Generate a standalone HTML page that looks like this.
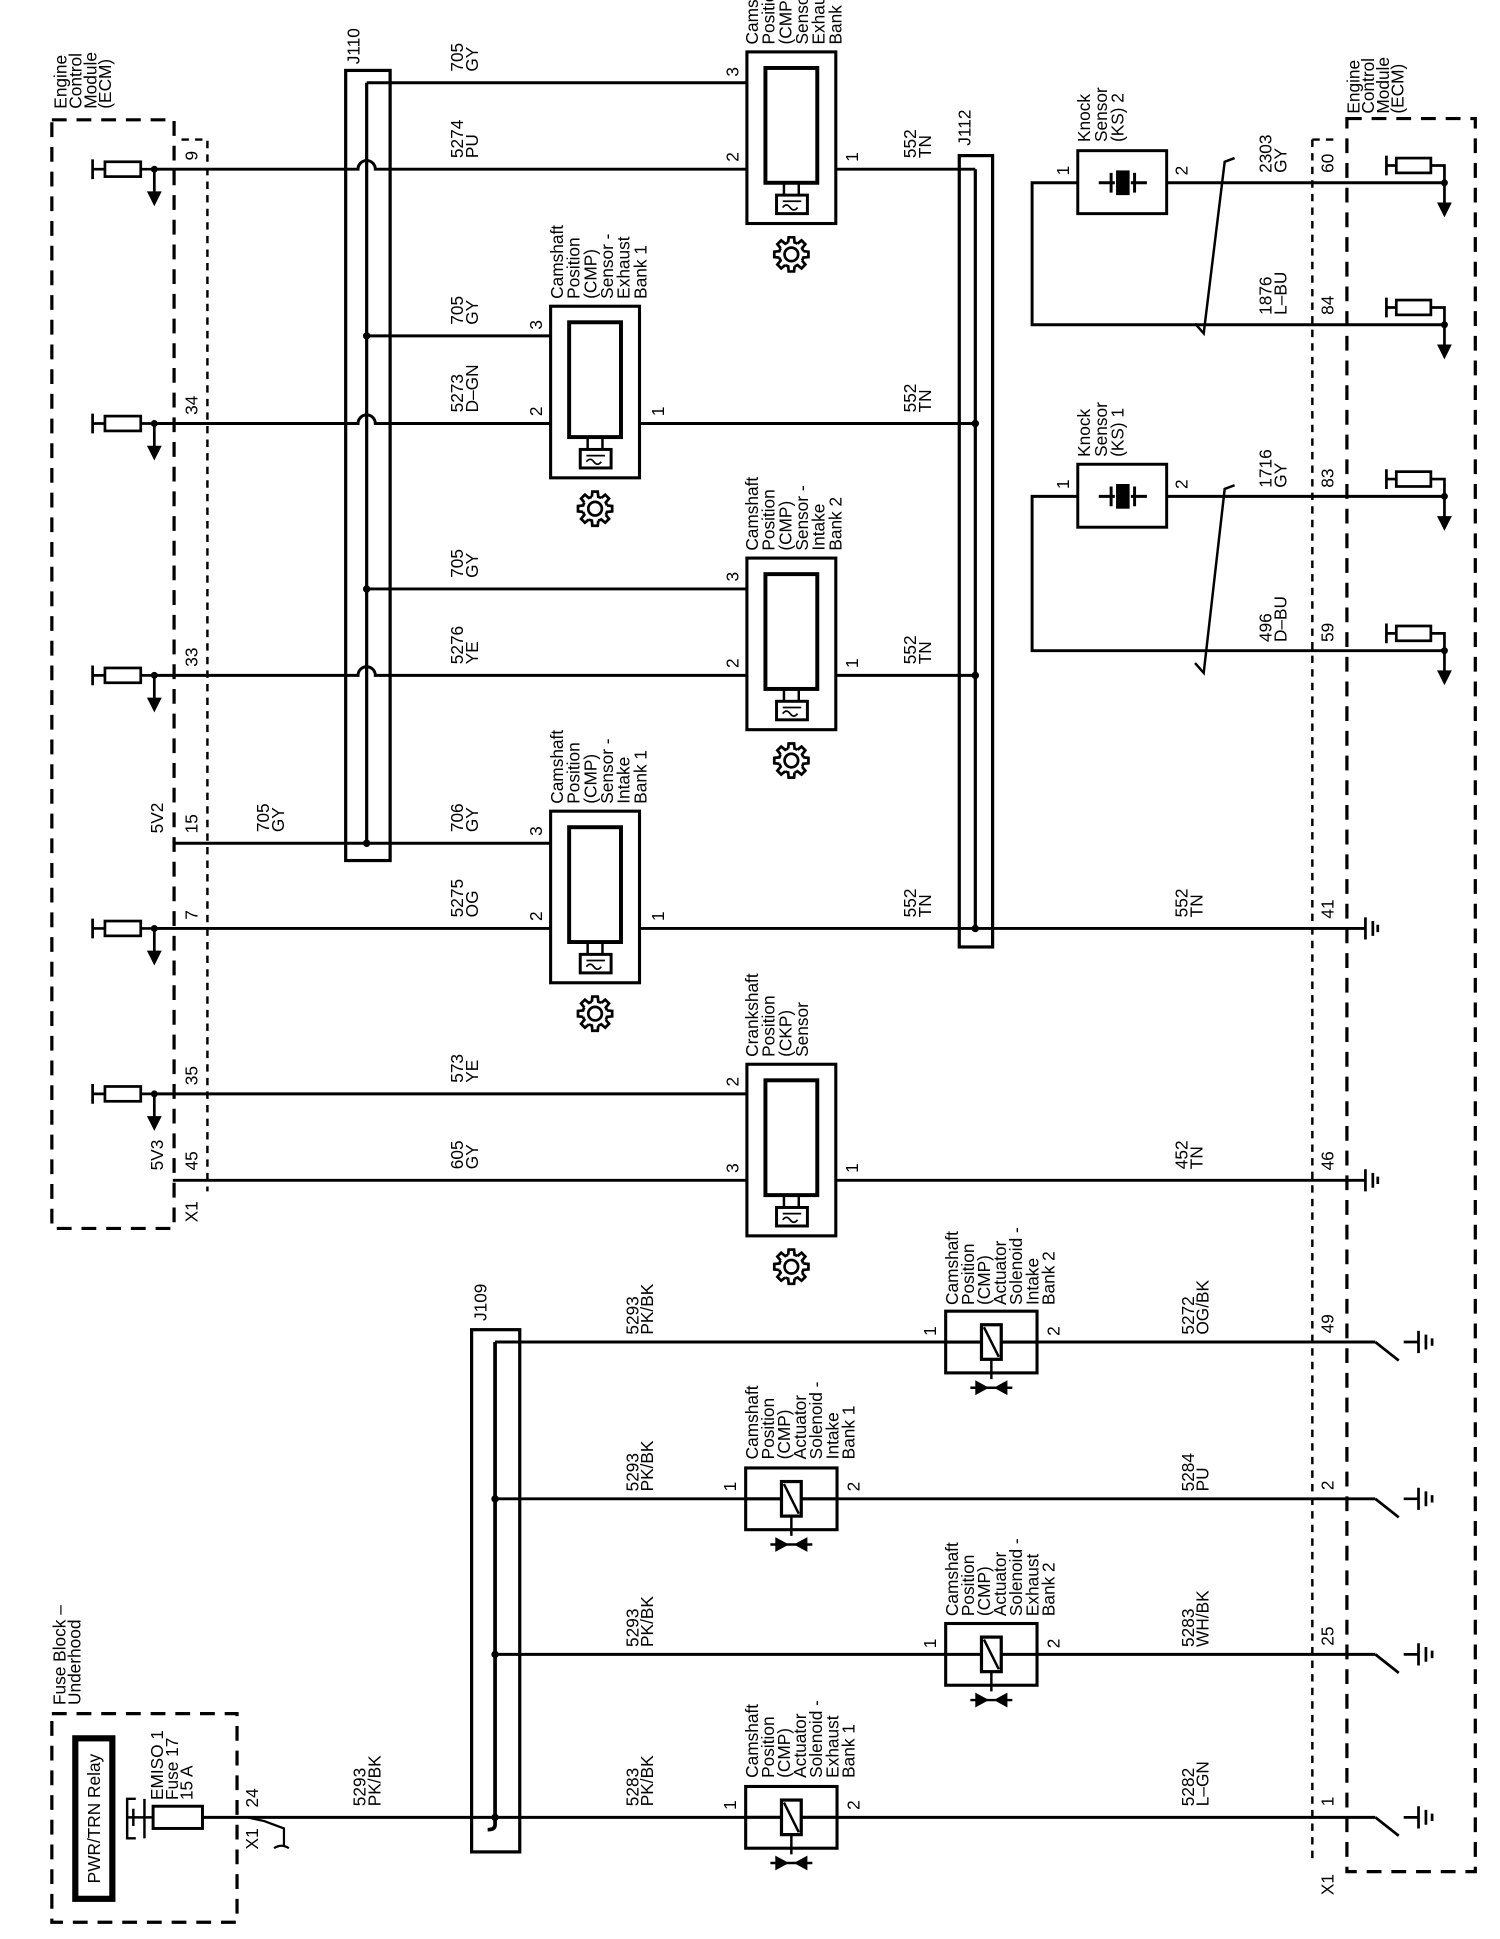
<!DOCTYPE html>
<html><head><meta charset="utf-8"><style>
html,body{margin:0;padding:0;background:#fff;}
svg{display:block;}
text{font-family:"Liberation Sans",Arial,sans-serif;font-size:14px;fill:#000;}
</style></head><body>
<svg width="1500" height="1939" viewBox="0 0 1215 1570.5" xmlns="http://www.w3.org/2000/svg">
<defs>
<path id="tooth" d="M9.66 -2.59L13.83 -2.19L13.83 2.19L9.66 2.59A10 10 0 0 1 8.66 5"/>
<g id="gear" stroke="#000" stroke-width="2.2" fill="none">
  <use href="#tooth"/>
  <use href="#tooth" transform="rotate(45)"/>
  <use href="#tooth" transform="rotate(90)"/>
  <use href="#tooth" transform="rotate(135)"/>
  <use href="#tooth" transform="rotate(180)"/>
  <use href="#tooth" transform="rotate(225)"/>
  <use href="#tooth" transform="rotate(270)"/>
  <use href="#tooth" transform="rotate(315)"/>
  <circle r="5.5"/>
</g>
<g id="resL" stroke="#000" stroke-width="2.2" fill="none">
  <path d="M75 -8V8M75 0H85M114 0H125M125 0V20"/>
  <rect x="85" y="-6" width="29" height="12" fill="#fff"/>
  <circle cx="125" cy="0" r="2.8" fill="#000" stroke="none"/>
  <path d="M119 18H131L125 30Z" fill="#000" stroke="none"/>
</g>
<g id="resR" stroke="#000" stroke-width="2.2" fill="none">
  <path d="M1123 -22V-6M1123 -14H1131M1159 -14H1170V18"/>
  <rect x="1131" y="-20" width="28" height="12" fill="#fff"/>
  <circle cx="1170" cy="0" r="2.8" fill="#000" stroke="none"/>
  <path d="M1164 16H1176L1170 28Z" fill="#000" stroke="none"/>
</g>
<g id="sensor" stroke="#000" fill="none">
  <rect x="0" y="0" width="72" height="139" stroke-width="2.5" fill="#fff"/>
  <rect x="15" y="13" width="42" height="93" stroke-width="3.2" fill="#fff"/>
  <path d="M30 106V116M42 106V116" stroke-width="2"/>
  <rect x="24" y="116" width="25" height="15" stroke-width="2.4"/>
  <path d="M29 121H44M29 126q3 -4 6 0t6 0" stroke-width="1.4"/>
  <use href="#gear" x="36" y="164"/>
</g>
<g id="sol" stroke="#000" fill="none">
  <rect x="0" y="-25" width="74" height="50" stroke-width="2.5" fill="#fff"/>
  <path d="M0 0H74" stroke-width="2.5"/>
  <rect x="29" y="-14" width="16" height="28" stroke-width="2.6" fill="#fff"/>
  <path d="M31 -12L43 12M37 14V30M20 37H54" stroke-width="2"/>
  <path d="M24 31V43L35 37ZM50 31V43L39 37Z" fill="#000" stroke="none"/>
</g>
<g id="gnd" stroke="#000" stroke-width="2.2" fill="none">
  <path d="M0 -9V9M6 -6V6M10 -3V3"/>
</g>
<g id="sw" stroke="#000" stroke-width="2.2" fill="none">
  <path d="M1114 0L1133 15M1137 0H1149M1149 -9V9M1155 -6V6M1160 -3V3"/>
</g>
</defs>

<g fill="none" stroke="#000">
  <rect x="42" y="97" width="99" height="898" stroke-width="2.6" stroke-dasharray="12 8"/>
  <path d="M147 113H168V965" stroke-width="2" stroke-dasharray="6 5"/>
  <rect x="1091" y="96" width="104" height="1420" stroke-width="2.6" stroke-dasharray="12 8"/>
  <path d="M1063 113H1080M1063 113V1505" stroke-width="2" stroke-dasharray="6 5"/>
  <rect x="42" y="1388" width="150" height="169" stroke-width="2.6" stroke-dasharray="12 8"/>
</g>

<g fill="none" stroke="#000">
  <rect x="280" y="57" width="36" height="640" stroke-width="2.6"/>
  <path d="M297 67V683" stroke-width="2.6"/>
  <rect x="777" y="126" width="27" height="641" stroke-width="2.6"/>
  <path d="M790 137V752" stroke-width="2.6"/>
  <rect x="382" y="1077" width="39" height="423" stroke-width="2.6"/>
  <path d="M401 1087V1478q0 4 -6 4" stroke-width="3"/>
</g>

<g fill="none" stroke="#000" stroke-width="2.4">
  <path d="M297 67H620"/>
  <path d="M125 137H290a7 7 0 0 1 14 0H620"/>
  <path d="M661 137H790"/>
  <path d="M297 272H461"/>
  <path d="M125 343H290a7 7 0 0 1 14 0H461M502 343H790"/>
  <path d="M297 477H620"/>
  <path d="M125 547H290a7 7 0 0 1 14 0H620M661 547H790"/>
  <path d="M140 683H461"/>
  <path d="M125 752H461M502 752H1106"/>
  <path d="M125 886H620"/>
  <path d="M140 956H620M661 956H1106"/>
  <path d="M873 148H836V263H1170M945 148H1170"/>
  <path d="M873 402H836V527H1170M945 402H1170"/>
  <path d="M1000 128L992 131L975 270L968 262" stroke-width="2"/>
  <path d="M1000 393L992 396L975 545L968 537" stroke-width="2"/>
  <path d="M401 1087H766M840 1087H1114"/>
  <path d="M401 1214H604M678 1214H1114"/>
  <path d="M401 1340H766M840 1340H1114"/>
  <path d="M164 1472H604M678 1472H1114"/>
  <path d="M200 1472L214 1475L230 1481V1495M222 1497q6 -4 12 0" stroke-width="1.8"/>
</g>
<g fill="#000">
  <circle cx="297" cy="272" r="3"/><circle cx="297" cy="477" r="3"/><circle cx="297" cy="683" r="3"/>
  <circle cx="790" cy="343" r="3"/><circle cx="790" cy="547" r="3"/><circle cx="790" cy="752" r="3"/>
  <circle cx="401" cy="1214" r="3"/><circle cx="401" cy="1340" r="3"/><circle cx="401" cy="1472" r="3"/>
</g>

<use href="#resL" y="137"/><use href="#resL" y="343"/><use href="#resL" y="547"/>
<use href="#resL" y="752"/><use href="#resL" y="886"/>
<use href="#resR" y="148"/><use href="#resR" y="263"/><use href="#resR" y="402"/><use href="#resR" y="527"/>

<use href="#sensor" x="605" y="42"/>
<use href="#sensor" x="446" y="248"/>
<use href="#sensor" x="605" y="452"/>
<use href="#sensor" x="446" y="657"/>
<use href="#sensor" x="605" y="862"/>

<g stroke="#000" fill="none" stroke-width="2.4">
  <rect x="873" y="122" width="72" height="51"/>
  <rect x="873" y="376" width="72" height="51"/>
  <path d="M890 148H903M916 148H929M900 140V156M919 140V156" />
  <path d="M890 402H903M916 402H929M900 394V410M919 394V410" />
</g>
<rect x="904" y="138" width="11" height="20" fill="#000"/>
<rect x="904" y="392" width="11" height="20" fill="#000"/>

<use href="#sol" x="766" y="1087"/>
<use href="#sol" x="604" y="1214"/>
<use href="#sol" x="766" y="1340"/>
<use href="#sol" x="604" y="1472"/>

<use href="#gnd" x="1106" y="752"/><use href="#gnd" x="1106" y="956"/>
<use href="#sw" y="1087"/><use href="#sw" y="1214"/><use href="#sw" y="1340"/><use href="#sw" y="1472"/>

<g stroke="#000" fill="none">
  <rect x="61" y="1408" width="30" height="130" stroke-width="5"/>
  <rect x="124" y="1463" width="40" height="18" stroke-width="2.4" fill="#fff"/>
  <path d="M110 1457H103V1489H110M103 1472H124M108 1465V1479M117 1457V1489" stroke-width="2"/>
</g>

<g>
<text transform="translate(54,88) rotate(-90)"><tspan x="0">Engine</tspan><tspan x="0" dy="12">Control</tspan><tspan x="0" dy="12">Module</tspan><tspan x="0" dy="12">(ECM)</tspan></text>
<text transform="translate(1101,92) rotate(-90)"><tspan x="0">Engine</tspan><tspan x="0" dy="12">Control</tspan><tspan x="0" dy="12">Module</tspan><tspan x="0" dy="12">(ECM)</tspan></text>
<text transform="translate(291,52) rotate(-90)">J110</text>
<text transform="translate(786,118) rotate(-90)">J112</text>
<text transform="translate(394,1070) rotate(-90)">J109</text>

<text transform="translate(375,58) rotate(-90)"><tspan x="0">705</tspan><tspan x="0" dy="12">GY</tspan></text>
<text transform="translate(375,128) rotate(-90)"><tspan x="0">5274</tspan><tspan x="0" dy="12">PU</tspan></text>
<text transform="translate(375,263) rotate(-90)"><tspan x="0">705</tspan><tspan x="0" dy="12">GY</tspan></text>
<text transform="translate(375,334) rotate(-90)"><tspan x="0">5273</tspan><tspan x="0" dy="12">D–GN</tspan></text>
<text transform="translate(375,468) rotate(-90)"><tspan x="0">705</tspan><tspan x="0" dy="12">GY</tspan></text>
<text transform="translate(375,538) rotate(-90)"><tspan x="0">5276</tspan><tspan x="0" dy="12">YE</tspan></text>
<text transform="translate(375,674) rotate(-90)"><tspan x="0">706</tspan><tspan x="0" dy="12">GY</tspan></text>
<text transform="translate(375,743) rotate(-90)"><tspan x="0">5275</tspan><tspan x="0" dy="12">OG</tspan></text>
<text transform="translate(375,877) rotate(-90)"><tspan x="0">573</tspan><tspan x="0" dy="12">YE</tspan></text>
<text transform="translate(375,947) rotate(-90)"><tspan x="0">605</tspan><tspan x="0" dy="12">GY</tspan></text>
<text transform="translate(218,674) rotate(-90)"><tspan x="0">705</tspan><tspan x="0" dy="12">GY</tspan></text>

<text transform="translate(742,128) rotate(-90)"><tspan x="0">552</tspan><tspan x="0" dy="12">TN</tspan></text>
<text transform="translate(742,334) rotate(-90)"><tspan x="0">552</tspan><tspan x="0" dy="12">TN</tspan></text>
<text transform="translate(742,538) rotate(-90)"><tspan x="0">552</tspan><tspan x="0" dy="12">TN</tspan></text>
<text transform="translate(742,743) rotate(-90)"><tspan x="0">552</tspan><tspan x="0" dy="12">TN</tspan></text>
<text transform="translate(962,743) rotate(-90)"><tspan x="0">552</tspan><tspan x="0" dy="12">TN</tspan></text>
<text transform="translate(962,947) rotate(-90)"><tspan x="0">452</tspan><tspan x="0" dy="12">TN</tspan></text>

<text transform="translate(160,130) rotate(-90)">9</text>
<text transform="translate(160,336) rotate(-90)">34</text>
<text transform="translate(160,540) rotate(-90)">33</text>
<text transform="translate(160,675) rotate(-90)">15</text>
<text transform="translate(160,745) rotate(-90)">7</text>
<text transform="translate(160,879) rotate(-90)">35</text>
<text transform="translate(160,948) rotate(-90)">45</text>
<text transform="translate(132,675) rotate(-90)">5V2</text>
<text transform="translate(132,948) rotate(-90)">5V3</text>
<text transform="translate(160,990) rotate(-90)">X1</text>

<text transform="translate(598,62) rotate(-90)">3</text>
<text transform="translate(598,131) rotate(-90)">2</text>
<text transform="translate(695,131) rotate(-90)">1</text>
<text transform="translate(439,267) rotate(-90)">3</text>
<text transform="translate(439,337) rotate(-90)">2</text>
<text transform="translate(538,337) rotate(-90)">1</text>
<text transform="translate(598,471) rotate(-90)">3</text>
<text transform="translate(598,541) rotate(-90)">2</text>
<text transform="translate(695,541) rotate(-90)">1</text>
<text transform="translate(439,677) rotate(-90)">3</text>
<text transform="translate(439,746) rotate(-90)">2</text>
<text transform="translate(538,746) rotate(-90)">1</text>
<text transform="translate(598,880) rotate(-90)">2</text>
<text transform="translate(598,950) rotate(-90)">3</text>
<text transform="translate(695,950) rotate(-90)">1</text>

<text transform="translate(614,36) rotate(-90)"><tspan x="0">Camshaft</tspan><tspan x="0" dy="13.5">Position</tspan><tspan x="0" dy="13.5">(CMP)</tspan><tspan x="0" dy="13.5">Sensor -</tspan><tspan x="0" dy="13.5">Exhaust</tspan><tspan x="0" dy="13.5">Bank 2</tspan></text>
<text transform="translate(456,242) rotate(-90)"><tspan x="0">Camshaft</tspan><tspan x="0" dy="13.5">Position</tspan><tspan x="0" dy="13.5">(CMP)</tspan><tspan x="0" dy="13.5">Sensor -</tspan><tspan x="0" dy="13.5">Exhaust</tspan><tspan x="0" dy="13.5">Bank 1</tspan></text>
<text transform="translate(614,446) rotate(-90)"><tspan x="0">Camshaft</tspan><tspan x="0" dy="13.5">Position</tspan><tspan x="0" dy="13.5">(CMP)</tspan><tspan x="0" dy="13.5">Sensor -</tspan><tspan x="0" dy="13.5">Intake</tspan><tspan x="0" dy="13.5">Bank 2</tspan></text>
<text transform="translate(456,651) rotate(-90)"><tspan x="0">Camshaft</tspan><tspan x="0" dy="13.5">Position</tspan><tspan x="0" dy="13.5">(CMP)</tspan><tspan x="0" dy="13.5">Sensor -</tspan><tspan x="0" dy="13.5">Intake</tspan><tspan x="0" dy="13.5">Bank 1</tspan></text>
<text transform="translate(614,856) rotate(-90)"><tspan x="0">Crankshaft</tspan><tspan x="0" dy="13.5">Position</tspan><tspan x="0" dy="13.5">(CKP)</tspan><tspan x="0" dy="13.5">Sensor</tspan></text>

<text transform="translate(883,115) rotate(-90)"><tspan x="0">Knock</tspan><tspan x="0" dy="13.5">Sensor</tspan><tspan x="0" dy="13.5">(KS) 2</tspan></text>
<text transform="translate(883,370) rotate(-90)"><tspan x="0">Knock</tspan><tspan x="0" dy="13.5">Sensor</tspan><tspan x="0" dy="13.5">(KS) 1</tspan></text>
<text transform="translate(866,142) rotate(-90)">1</text>
<text transform="translate(962,142) rotate(-90)">2</text>
<text transform="translate(866,396) rotate(-90)">1</text>
<text transform="translate(962,396) rotate(-90)">2</text>
<text transform="translate(1030,140) rotate(-90)"><tspan x="0">2303</tspan><tspan x="0" dy="12">GY</tspan></text>
<text transform="translate(1030,255) rotate(-90)"><tspan x="0">1876</tspan><tspan x="0" dy="12">L–BU</tspan></text>
<text transform="translate(1030,395) rotate(-90)"><tspan x="0">1716</tspan><tspan x="0" dy="12">GY</tspan></text>
<text transform="translate(1030,520) rotate(-90)"><tspan x="0">496</tspan><tspan x="0" dy="12">D–BU</tspan></text>

<text transform="translate(1080,140) rotate(-90)">60</text>
<text transform="translate(1080,255) rotate(-90)">84</text>
<text transform="translate(1080,395) rotate(-90)">83</text>
<text transform="translate(1080,520) rotate(-90)">59</text>
<text transform="translate(1080,744) rotate(-90)">41</text>
<text transform="translate(1080,948) rotate(-90)">46</text>
<text transform="translate(1080,1080) rotate(-90)">49</text>
<text transform="translate(1080,1207) rotate(-90)">2</text>
<text transform="translate(1080,1333) rotate(-90)">25</text>
<text transform="translate(1080,1463) rotate(-90)">1</text>
<text transform="translate(1080,1535) rotate(-90)">X1</text>

<text transform="translate(776,1057) rotate(-90)"><tspan x="0">Camshaft</tspan><tspan x="0" dy="13">Position</tspan><tspan x="0" dy="13">(CMP)</tspan><tspan x="0" dy="13">Actuator</tspan><tspan x="0" dy="13">Solenoid -</tspan><tspan x="0" dy="13">Intake</tspan><tspan x="0" dy="13">Bank 2</tspan></text>
<text transform="translate(614,1182) rotate(-90)"><tspan x="0">Camshaft</tspan><tspan x="0" dy="13">Position</tspan><tspan x="0" dy="13">(CMP)</tspan><tspan x="0" dy="13">Actuator</tspan><tspan x="0" dy="13">Solenoid -</tspan><tspan x="0" dy="13">Intake</tspan><tspan x="0" dy="13">Bank 1</tspan></text>
<text transform="translate(776,1309) rotate(-90)"><tspan x="0">Camshaft</tspan><tspan x="0" dy="13">Position</tspan><tspan x="0" dy="13">(CMP)</tspan><tspan x="0" dy="13">Actuator</tspan><tspan x="0" dy="13">Solenoid -</tspan><tspan x="0" dy="13">Exhaust</tspan><tspan x="0" dy="13">Bank 2</tspan></text>
<text transform="translate(614,1440) rotate(-90)"><tspan x="0">Camshaft</tspan><tspan x="0" dy="13">Position</tspan><tspan x="0" dy="13">(CMP)</tspan><tspan x="0" dy="13">Actuator</tspan><tspan x="0" dy="13">Solenoid -</tspan><tspan x="0" dy="13">Exhaust</tspan><tspan x="0" dy="13">Bank 1</tspan></text>

<text transform="translate(758,1082) rotate(-90)">1</text>
<text transform="translate(858,1082) rotate(-90)">2</text>
<text transform="translate(596,1208) rotate(-90)">1</text>
<text transform="translate(696,1208) rotate(-90)">2</text>
<text transform="translate(758,1335) rotate(-90)">1</text>
<text transform="translate(858,1335) rotate(-90)">2</text>
<text transform="translate(596,1466) rotate(-90)">1</text>
<text transform="translate(696,1466) rotate(-90)">2</text>

<text transform="translate(517,1081) rotate(-90)"><tspan x="0">5293</tspan><tspan x="0" dy="12">PK/BK</tspan></text>
<text transform="translate(517,1208) rotate(-90)"><tspan x="0">5293</tspan><tspan x="0" dy="12">PK/BK</tspan></text>
<text transform="translate(517,1334) rotate(-90)"><tspan x="0">5293</tspan><tspan x="0" dy="12">PK/BK</tspan></text>
<text transform="translate(517,1463) rotate(-90)"><tspan x="0">5283</tspan><tspan x="0" dy="12">PK/BK</tspan></text>
<text transform="translate(296,1463) rotate(-90)"><tspan x="0">5293</tspan><tspan x="0" dy="12">PK/BK</tspan></text>
<text transform="translate(967,1081) rotate(-90)"><tspan x="0">5272</tspan><tspan x="0" dy="12">OG/BK</tspan></text>
<text transform="translate(967,1208) rotate(-90)"><tspan x="0">5284</tspan><tspan x="0" dy="12">PU</tspan></text>
<text transform="translate(967,1334) rotate(-90)"><tspan x="0">5283</tspan><tspan x="0" dy="12">WH/BK</tspan></text>
<text transform="translate(967,1463) rotate(-90)"><tspan x="0">5282</tspan><tspan x="0" dy="12">L–GN</tspan></text>

<text transform="translate(53,1381) rotate(-90)"><tspan x="0">Fuse Block –</tspan><tspan x="0" dy="12">Underhood</tspan></text>
<text transform="translate(81,1473) rotate(-90)" text-anchor="middle">PWR/TRN Relay</text>
<text transform="translate(132,1458) rotate(-90)"><tspan x="0">EMISO 1</tspan><tspan x="0" dy="12">Fuse 17</tspan><tspan x="0" dy="12">15 A</tspan></text>
<text transform="translate(209,1464) rotate(-90)">24</text>
<text transform="translate(209,1498) rotate(-90)">X1</text>
</g>
</svg>
</body></html>
